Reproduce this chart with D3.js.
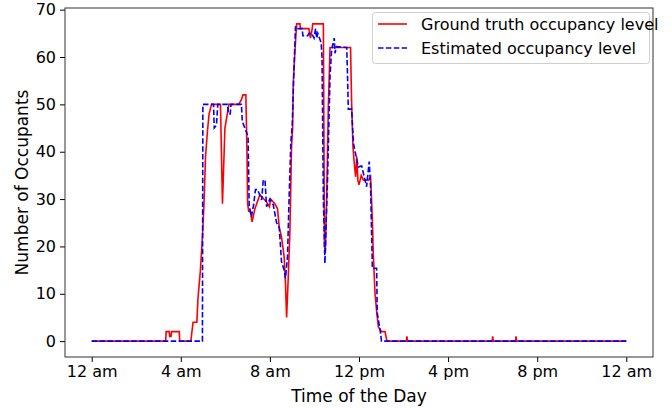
<!DOCTYPE html>
<html>
<head>
<meta charset="utf-8">
<script src="https://cdn.jsdelivr.net/npm/d3@7"></script>
<style>
  body { margin: 0; background: #fff; }
  text { font-family: "DejaVu Sans", sans-serif; fill: #000; }
</style>
</head>
<body>
<div id="chart"></div>
<script>
// hour of day, occupants
const groundTruth = [
  [0,0],[3.32,0],[3.34,2],[3.48,2],[3.5,1],[3.56,1],[3.58,2],[3.93,2],[3.95,0],[4.45,0],
  [4.55,4],[4.72,4],[4.77,9],[4.88,15],[4.97,22],[5.04,29],[5.11,39],[5.2,44.6],[5.27,48],
  [5.38,50],[5.78,50],[5.87,29],[5.98,45],[6.16,50],[6.6,50],[6.72,51],[6.79,52],[6.92,52],
  [6.97,40],[7.0,29],[7.05,27.3],[7.1,28],[7.2,25.2],[7.33,28],[7.55,30.9],[7.83,29.5],
  [7.98,28.4],[8.03,30],[8.22,29],[8.34,28],[8.42,24],[8.52,22],[8.64,17.8],[8.7,12],[8.75,5],
  [8.82,13],[8.9,23.5],[8.97,41],[9.02,45],[9.05,54.5],[9.12,61],[9.2,67],[9.35,67],[9.37,66],
  [9.75,66],[9.82,64],[9.9,66],[9.92,67],[10.4,67],[10.45,20],[10.49,19],[10.55,30.5],
  [10.62,49],[10.7,62],[11.62,62],[11.67,50],[11.73,41],[11.78,38],[11.85,34.7],[11.9,39],
  [11.95,34],[12.0,33],[12.1,35],[12.2,34],[12.43,34],[12.52,34.7],[12.6,25.6],[12.64,18.6],
  [12.72,10],[12.8,5.9],[12.87,3],[13.02,2],[13.17,2],[13.25,0],[14.13,0],[14.15,1],[14.18,0],
  [17.98,0],[18.0,1],[18.03,0],[19.03,0],[19.05,1],[19.08,0],[24,0]
];
const estimated = [
  [0,0],[4.97,0],[4.99,50],[5.47,50],[5.5,45],[5.6,45.6],[5.66,50],[6.1,50],[6.13,48],
  [6.22,48],[6.25,50],[6.72,50],[6.76,46.4],[6.91,44.6],[7.0,43.5],[7.02,43],[7.07,28.4],
  [7.17,26.3],[7.27,28.8],[7.35,32],[7.45,32],[7.63,29.8],[7.7,34],[7.78,34],[7.85,28.4],
  [8.0,30],[8.15,28.8],[8.3,25],[8.42,24],[8.52,16.8],[8.64,15],[8.7,13.3],[8.79,17.8],
  [8.85,28.4],[8.94,42],[9.0,45.3],[9.07,56],[9.15,66.5],[9.2,66],[9.45,66],[9.48,64.5],
  [9.7,64.5],[9.75,65],[9.87,65],[9.98,64],[10.05,66],[10.1,64],[10.15,65],[10.3,63],
  [10.34,60],[10.4,30],[10.47,16.4],[10.59,34.7],[10.7,56],[10.77,61.5],[10.89,64],
  [10.92,60.8],[10.99,62.2],[11.45,62],[11.48,57],[11.52,49],[11.67,49],[11.75,41.8],
  [11.87,39],[11.97,36.8],[12.12,37],[12.27,34],[12.34,32.6],[12.46,37.9],[12.52,32.6],
  [12.6,15.4],[12.79,15.4],[12.82,5.9],[12.91,3.4],[12.97,1.6],[13.01,0],[24,0]
];
const xTicks = [0, 4, 8, 12, 16, 20, 24];
const xTickLabels = ["12 am", "4 am", "8 am", "12 pm", "4 pm", "8 pm", "12 am"];
const yTicks = [0, 10, 20, 30, 40, 50, 60, 70];
const seriesNames = ["Ground truth occupancy level", "Estimated occupancy level"];

const W = 672, H = 408;
const m = {left: 65, right: 19, top: 8, bottom: 51};

const svg = d3.select("#chart").append("svg").attr("width", W).attr("height", H);

const x = d3.scaleLinear().domain([-1.2, 25.2]).range([m.left, W - m.right]);
const y = d3.scaleLinear().domain([-3.35, 70.35]).range([H - m.bottom, m.top]);

// axes
const xAxis = svg.append("g").attr("transform", `translate(0,${H - m.bottom})`)
  .call(d3.axisBottom(x).tickValues(xTicks).tickFormat((d, i) => xTickLabels[i]).tickSize(5).tickPadding(4));
const yAxis = svg.append("g").attr("transform", `translate(${m.left},0)`)
  .call(d3.axisLeft(y).tickValues(yTicks).tickSize(5).tickPadding(4));
[xAxis, yAxis].forEach(a => {
  a.select(".domain").remove();
  a.selectAll("text").style("font-size", "16px").attr("fill", "#000");
  a.selectAll("line").attr("stroke", "#000").attr("stroke-width", 1);
});

const line = d3.line().x(d => x(d[0])).y(d => y(d[1]));

svg.append("path").datum(groundTruth).attr("d", line)
  .attr("fill", "none").attr("stroke", "#ff0000").attr("stroke-width", 1.6);
svg.append("path").datum(estimated).attr("d", line)
  .attr("fill", "none").attr("stroke", "#0000ff").attr("stroke-width", 1.6)
  .attr("stroke-dasharray", "5.5,2.4");

// frame
svg.append("rect").attr("x", m.left).attr("y", m.top)
  .attr("width", W - m.left - m.right).attr("height", H - m.top - m.bottom)
  .attr("fill", "none").attr("stroke", "#333").attr("stroke-width", 1);

// axis labels
svg.append("text").attr("x", (m.left + W - m.right) / 2).attr("y", 402)
  .attr("text-anchor", "middle").style("font-size", "17px").text("Time of the Day");
svg.append("text").attr("transform", `translate(28,${(m.top + H - m.bottom) / 2}) rotate(-90)`)
  .attr("text-anchor", "middle").style("font-size", "17px").text("Number of Occupants");

// legend
const lg = svg.append("g");
lg.append("rect").attr("x", 372.5).attr("y", 12.5).attr("width", 277).attr("height", 51).attr("rx", 3)
  .attr("fill", "#fff").attr("fill-opacity", 0.8).attr("stroke", "#d0d0d0");
const styles = [{c: "#ff0000", dash: null}, {c: "#0000ff", dash: "5.5,2.4"}];
seriesNames.forEach((name, i) => {
  const ly = 24 + i * 24;
  lg.append("line").attr("x1", 378).attr("x2", 407).attr("y1", ly).attr("y2", ly)
    .attr("stroke", styles[i].c).attr("stroke-width", 1.6).attr("stroke-dasharray", styles[i].dash);
  lg.append("text").attr("x", 421).attr("y", ly).attr("dy", "0.35em")
    .style("font-size", "16px").text(name);
});
</script>
</body>
</html>
